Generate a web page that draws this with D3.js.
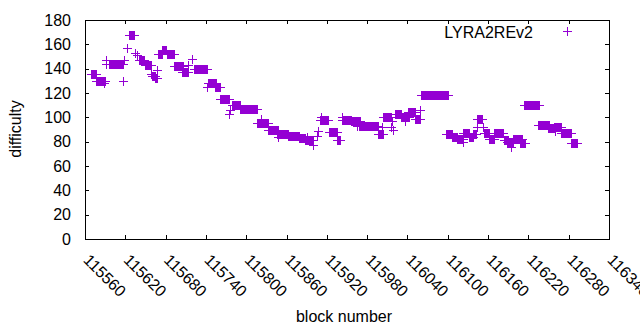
<!DOCTYPE html>
<html>
<head>
<meta charset="utf-8">
<script src="https://cdn.jsdelivr.net/npm/d3@7"></script>
<style>
  body { margin: 0; background: #fff; }
  text { font-family: "Liberation Sans", Arial, sans-serif; font-size: 16px; fill: #000; }
</style>
</head>
<body>
<div id="chart"></div>
<script>
// runs of blocks with the same difficulty: first block, last block, difficulty
var runFirst = [115569, 115577, 115589, 115591, 115592, 115596, 115616, 115618, 115622, 115625,
    115634, 115638, 115640, 115649, 115658, 115660, 115664, 115667, 115668, 115675,
    115682, 115693, 115705, 115713, 115719, 115722, 115741, 115743, 115753, 115761,
    115775, 115776, 115779, 115791, 115816, 115822, 115833, 115846, 115848, 115862,
    115879, 115887, 115891, 115900, 115905, 115907, 115910, 115911, 115923, 115935,
    115942, 115942, 115956, 115965, 115968, 115996, 116002, 116004, 116016, 116017,
    116019, 116022, 116031, 116036, 116041, 116051, 116058, 116060, 116098, 116106,
    116113, 116122, 116122, 116131, 116138, 116143, 116144, 116153, 116154, 116162,
    116169, 116183, 116188, 116194, 116197, 116208, 116213, 116234, 116249, 116258,
    116259, 116269, 116283];
var runLast = [115576, 115590, 115589, 115591, 115592, 115616, 115616, 115618, 115622, 115633,
    115634, 115638, 115648, 115658, 115658, 115664, 115667, 115667, 115674, 115681,
    115693, 115706, 115714, 115713, 115719, 115742, 115741, 115755, 115761, 115775,
    115775, 115776, 115790, 115816, 115833, 115822, 115848, 115862, 115848, 115879,
    115887, 115900, 115891, 115900, 115905, 115907, 115922, 115911, 115935, 115939,
    115942, 115956, 115970, 115965, 115996, 116004, 116002, 116015, 116016, 116017,
    116019, 116031, 116043, 116036, 116051, 116058, 116058, 116101, 116106, 116113,
    116122, 116122, 116131, 116138, 116142, 116143, 116151, 116153, 116162, 116169,
    116182, 116190, 116197, 116194, 116210, 116215, 116236, 116251, 116258, 116269,
    116259, 116284, 116292];
var runDiff = [136, 130, 128, 144, 147, 144, 130, 147, 157, 168,
    153, 151, 147, 143, 136, 134, 132, 139, 152, 155,
    152, 142, 137, 143, 148, 140, 125, 128, 125, 115,
    103, 106, 110, 107, 95, 99, 90, 86, 84, 85,
    83, 81, 84, 77, 85, 89, 98, 100, 88, 81,
    100, 98, 97, 93, 93, 86, 92, 100, 92, 97,
    90, 103, 100, 97, 104, 99, 106, 118, 86, 84,
    82, 80, 87, 84, 86, 92, 99, 92, 87, 82,
    87, 81, 80, 76, 82, 79, 110, 94, 91, 92,
    89, 87, 79];

var xTicks = [115560, 115620, 115680, 115740, 115800, 115860, 115920, 115980,
    116040, 116100, 116160, 116220, 116280, 116340];
var yTicks = [0, 20, 40, 60, 80, 100, 120, 140, 160, 180];
var seriesName = 'LYRA2REv2';

var width = 640,
    height = 330;
var plotLeft = 85, plotRight = 609, plotTop = 20, plotBottom = 239;
var arm = 4,
    color = '#9400d3';

var svg = d3.select('#chart')
    .append('svg')
    .attr('width', width)
    .attr('height', height);

var x = d3.scaleLinear()
    .domain([115560, 116340])
    .range([plotLeft, plotRight]);
var y = d3.scaleLinear()
    .domain([0, 180])
    .range([plotBottom, plotTop]);

// y axis, ticks inward, mirrored on the right
var yAxis = svg.append('g')
    .attr('transform', 'translate(' + plotLeft + ',0)')
    .call(d3.axisLeft(y).tickValues(yTicks).tickSizeInner(-4).tickSizeOuter(0).tickPadding(14));
yAxis.selectAll('text')
    .attr('font-size', 16)
    .attr('font-family', '"Liberation Sans", Arial, sans-serif')
    .attr('fill', '#000');
svg.append('g')
    .attr('transform', 'translate(' + plotRight + ',0)')
    .call(d3.axisRight(y).tickValues(yTicks).tickSizeInner(-4).tickSizeOuter(0).tickFormat(''));

// x axis, ticks inward, mirrored on the top
var xAxis = svg.append('g')
    .attr('transform', 'translate(0,' + plotBottom + ')')
    .call(d3.axisBottom(x).tickValues(xTicks).tickSizeInner(-4).tickSizeOuter(0).tickFormat(d3.format('d')));
xAxis.selectAll('text')
    .attr('font-size', 16)
    .attr('font-family', '"Liberation Sans", Arial, sans-serif')
    .attr('fill', '#000')
    .attr('text-anchor', 'start')
    .attr('dy', null)
    .attr('y', 0)
    .attr('transform', 'translate(-3,22) rotate(45)');
svg.append('g')
    .attr('transform', 'translate(0,' + plotTop + ')')
    .call(d3.axisTop(x).tickValues(xTicks).tickSizeInner(-4).tickSizeOuter(0).tickFormat(''));

svg.selectAll('.domain').remove();
svg.selectAll('.tick line').attr('stroke', '#000').attr('shape-rendering', 'crispEdges');

// border
svg.append('rect')
    .attr('x', plotLeft + 0.5)
    .attr('y', plotTop + 0.5)
    .attr('width', plotRight - plotLeft)
    .attr('height', plotBottom - plotTop)
    .attr('fill', 'none')
    .attr('stroke', '#000')
    .attr('stroke-width', 1)
    .attr('shape-rendering', 'crispEdges');

// points: a "+" whose vertical arm is stretched over the run of blocks
var runs = runFirst.map(function (d, i) {
    return {first: d, last: runLast[i], diff: runDiff[i]};
});
var marks = svg.append('g').attr('shape-rendering', 'crispEdges');
marks.selectAll('rect.run')
    .data(runs)
    .enter().append('rect')
    .attr('class', 'run')
    .attr('x', function (d) { return Math.round(x(d.first)); })
    .attr('y', function (d) { return Math.round(y(d.diff)) - arm; })
    .attr('width', function (d) { return Math.max(1, Math.round(x(d.last)) - Math.round(x(d.first)) + 1); })
    .attr('height', arm * 2 + 1)
    .attr('fill', color);
marks.selectAll('rect.arm')
    .data(runs)
    .enter().append('rect')
    .attr('class', 'arm')
    .attr('x', function (d) { return Math.round(x(d.first)) - arm; })
    .attr('y', function (d) { return Math.round(y(d.diff)); })
    .attr('width', function (d) { return Math.round(x(d.last)) - Math.round(x(d.first)) + arm * 2 + 1; })
    .attr('height', 1)
    .attr('fill', color);

// legend
svg.append('text')
    .attr('x', 533)
    .attr('y', 37.5)
    .attr('text-anchor', 'end')
    .text(seriesName);
var lx = 567, ly = 31;
svg.append('rect').attr('x', lx - arm).attr('y', ly).attr('width', arm * 2 + 1).attr('height', 1).attr('fill', color);
svg.append('rect').attr('x', lx).attr('y', ly - arm).attr('width', 1).attr('height', arm * 2 + 1).attr('fill', color);

// axis titles
svg.append('text')
    .attr('transform', 'translate(21,129) rotate(-90)')
    .attr('text-anchor', 'middle')
    .text('difficulty');
svg.append('text')
    .attr('x', 344)
    .attr('y', 322)
    .attr('text-anchor', 'middle')
    .text('block number');
</script>
</body>
</html>
